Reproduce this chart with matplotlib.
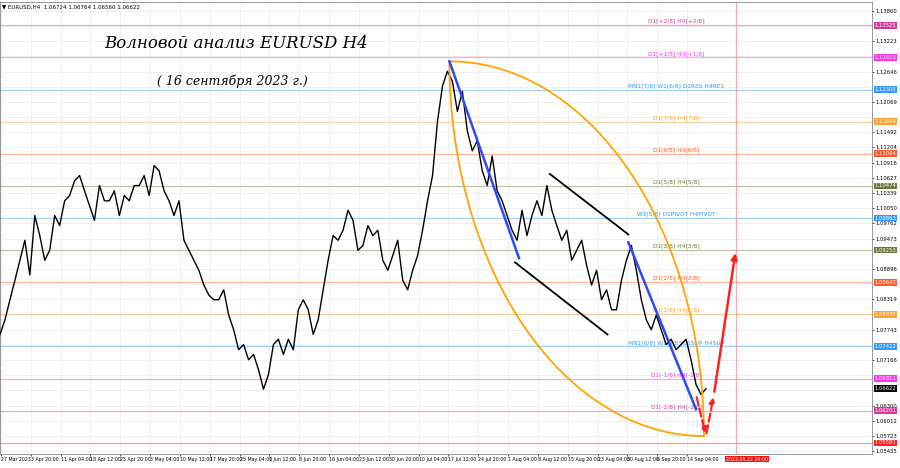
import numpy as np
import matplotlib
matplotlib.use("Agg")
import matplotlib.pyplot as plt

# ---- data ----
closes = [1.0765,1.0793,1.0831,1.0868,1.0906,1.0944,1.0878,1.0991,1.0953,1.0906,1.0925,1.0991,1.0972,1.1019,1.1029,1.1057,
          1.1067,1.1038,1.1010,1.0982,1.1048,1.1019,1.1019,1.1038,1.0991,1.1029,1.1019,1.1048,1.1048,1.1067,1.1029,1.1086,
          1.1076,1.1038,1.1019,1.0991,1.1019,1.0944,1.0925,1.0906,1.0887,1.0859,1.0840,1.0831,1.0831,1.0850,1.0802,1.0774,
          1.0736,1.0746,1.0717,1.0727,1.0698,1.0661,1.0689,1.0746,1.0756,1.0727,1.0756,1.0736,1.0812,1.0831,1.0812,1.0765,
          1.0793,1.0850,1.0906,1.0953,1.0944,1.0963,1.1001,1.0982,1.0925,1.0934,1.0972,1.0953,1.0963,1.0906,1.0887,1.0915,
          1.0944,1.0868,1.0850,1.0887,1.0915,1.0963,1.1019,1.1067,1.1170,1.1237,1.1265,1.1246,1.1189,1.1227,1.1152,1.1114,
          1.1133,1.1076,1.1048,1.1104,1.1038,1.1019,1.0991,1.0963,1.0944,1.1001,1.0953,1.0991,1.1019,1.0991,1.1048,1.1001,
          1.0972,1.0944,1.0963,1.0906,1.0925,1.0944,1.0896,1.0859,1.0887,1.0831,1.0850,1.0812,1.0812,1.0868,1.0906,1.0934,
          1.0887,1.0831,1.0793,1.0774,1.0802,1.0774,1.0746,1.0756,1.0736,1.0746,1.0756,1.0717,1.0670,1.0651,1.0662]

levels = [1.13525,1.12915,1.12305,1.11694,1.11084,1.10474,1.09863,1.09253,1.08643,1.08032,1.07422,1.06811,1.06201,1.05591]
level_colors = ['#d63a9e','#ff33ee','#3399ff','#ffa032','#ff5a28','#6b7a3a','#3399ff','#6b7a3a','#ff5a28','#ffa032','#3399ff','#ff33ee','#d63a9e','#ff2020']
level_names = ['D1[+2/8] H4[+2/8]','D1[+1/8] H4[+1/8]','MN1[7/8] W1[6/8] D1RES H4RES','D1[7/8] H4[7/8]','D1[6/8] H4[6/8]',
               'D1[5/8] H4[5/8]','W1[5/8] D1PIVOT H4PIVOT','D1[3/8] H4[3/8]','D1[2/8] H4[2/8]','D1[1/8] H4[1/8]',
               'MN1[6/8] W1[4/8] D1SUP H4SUP','D1[-1/8] H4[-1/8]','D1[-2/8] H4[-2/8]','']
date_labels = ['27 Mar 2023','3 Apr 20:00','11 Apr 04:00','18 Apr 12:00','25 Apr 20:00','3 May 04:00','10 May 12:00',
               '17 May 20:00','25 May 04:00','1 Jun 12:00','8 Jun 20:00','16 Jun 04:00','23 Jun 12:00','30 Jun 20:00',
               '10 Jul 04:00','17 Jul 12:00','24 Jul 20:00','1 Aug 04:00','8 Aug 12:00','15 Aug 20:00','23 Aug 04:00',
               '30 Aug 12:00','6 Sep 20:00','14 Sep 04:00']
date_pos = [0.2,6.2,12.2,18.2,24.2,30.2,36.2,42.2,48.2,54.2,60.2,66.2,72.2,78.2,84.2,90.2,96.2,102.2,108.2,114.2,120.2,126.2,132.2,138.2]
current_price = 1.06622
ymin, ymax = 1.0538, 1.1397
xmax = 175.4

fig = plt.figure(figsize=(9, 4.68), dpi=100)
ax = fig.add_axes([0.0, 0.030, 0.9689, 0.966])
ax.set_xlim(0, xmax); ax.set_ylim(ymin, ymax)

# grid
pticks = np.linspace(1.05435, 1.13800, 30)
for p in pticks:
    ax.axhline(p, color='#ececec', lw=0.6, zorder=0)
for d in date_pos + [148]:
    ax.axvline(d, color='#ececec', lw=0.6, zorder=0)

# levels
for lv, c, nm in zip(levels, level_colors, level_names):
    ax.axhline(lv, color=c, lw=0.9, alpha=0.45, zorder=1)
    if nm:
        ax.text(136, lv + 0.0003, nm, color=c, fontsize=4.2, ha='center', va='bottom', zorder=2)
ax.axvline(148, color='#ff8080', lw=0.9, alpha=0.6, zorder=1)

# price
ax.plot(range(len(closes)), closes, color='black', lw=1.0, zorder=3)

# arcs
t = np.linspace(0, np.pi/2, 200)
ax.plot(90.4 + 51.2*np.cos(t), 1.0572 + 0.0712*np.sin(t), color='orange', lw=1.3, zorder=4)
ax.plot(141.6 - 51.2*np.cos(t), 1.1284 - 0.0712*np.sin(t), color='orange', lw=1.3, zorder=4)

# trend lines
ax.plot([90.4, 104.4], [1.1284, 1.0910], color='#2a4cf0', lw=1.8, zorder=5)
ax.plot([126.4, 140], [1.0940, 1.0623], color='#2a4cf0', lw=1.8, zorder=5)
ax.plot([110.6, 126.4], [1.1070, 1.0955], color='black', lw=1.3, zorder=5)
ax.plot([103.6, 122.2], [1.0902, 1.0765], color='black', lw=1.3, zorder=5)

# forecast arrows
ax.annotate('', xy=(142, 1.0572), xytext=(140, 1.0651),
            arrowprops=dict(arrowstyle='-|>', color='#ff2020', lw=1.6, ls='--', mutation_scale=8), zorder=6)
ax.annotate('', xy=(143.6, 1.0651), xytext=(142, 1.0572),
            arrowprops=dict(arrowstyle='-|>', color='#ff2020', lw=1.6, ls='--', mutation_scale=8), zorder=6)
ax.annotate('', xy=(148, 1.0925), xytext=(143.6, 1.0651),
            arrowprops=dict(arrowstyle='-|>', color='#ff2020', lw=1.8, mutation_scale=9), zorder=6)

# titles
ax.text(21, 1.1318, 'Волновой анализ EURUSD H4', fontsize=12, style='italic', family='DejaVu Serif', va='center')
ax.text(31.6, 1.1246, '( 16 сентября 2023 г.)', fontsize=9, style='italic', family='DejaVu Serif', va='center')
ax.text(0.4, 1.1387, '▼ EURUSD,H4  1.06724 1.06764 1.06560 1.06622', fontsize=4, va='center')

# axes
ax.yaxis.tick_right()
vis = [p for p in pticks if min(abs(p - l) for l in levels + [current_price]) > 0.0009]
ax.set_yticks(vis)
ax.set_yticklabels([f'{p:.5f}' for p in vis], fontsize=3.8)
ax.tick_params(axis='y', length=1.5, pad=1, width=0.5)
ax.set_xticks(date_pos)
ax.set_xticklabels(date_labels, fontsize=3.4, ha='left')
ax.tick_params(axis='x', length=1.5, pad=1, width=0.5)
for s in ax.spines.values():
    s.set_linewidth(0.6); s.set_color('#888888')

# right labels boxes
for lv, c in zip(levels, level_colors):
    ax.text(1.003, lv, f'{lv:.5f}', transform=ax.get_yaxis_transform(), fontsize=3.8, color='white',
            va='center', ha='left', bbox=dict(boxstyle='square,pad=0.15', fc=c, ec='none'))
ax.text(1.003, current_price, f'{current_price:.5f}', transform=ax.get_yaxis_transform(), fontsize=3.8, color='white',
        va='center', ha='left', bbox=dict(boxstyle='square,pad=0.15', fc='black', ec='none'))
ax.text(146, -0.006, '2023.09.22 20:00', transform=ax.get_xaxis_transform(), fontsize=3.4, color='white',
        va='top', ha='left', bbox=dict(boxstyle='square,pad=0.15', fc='#ff1010', ec='none'))

fig.savefig('out.png', dpi=100)
